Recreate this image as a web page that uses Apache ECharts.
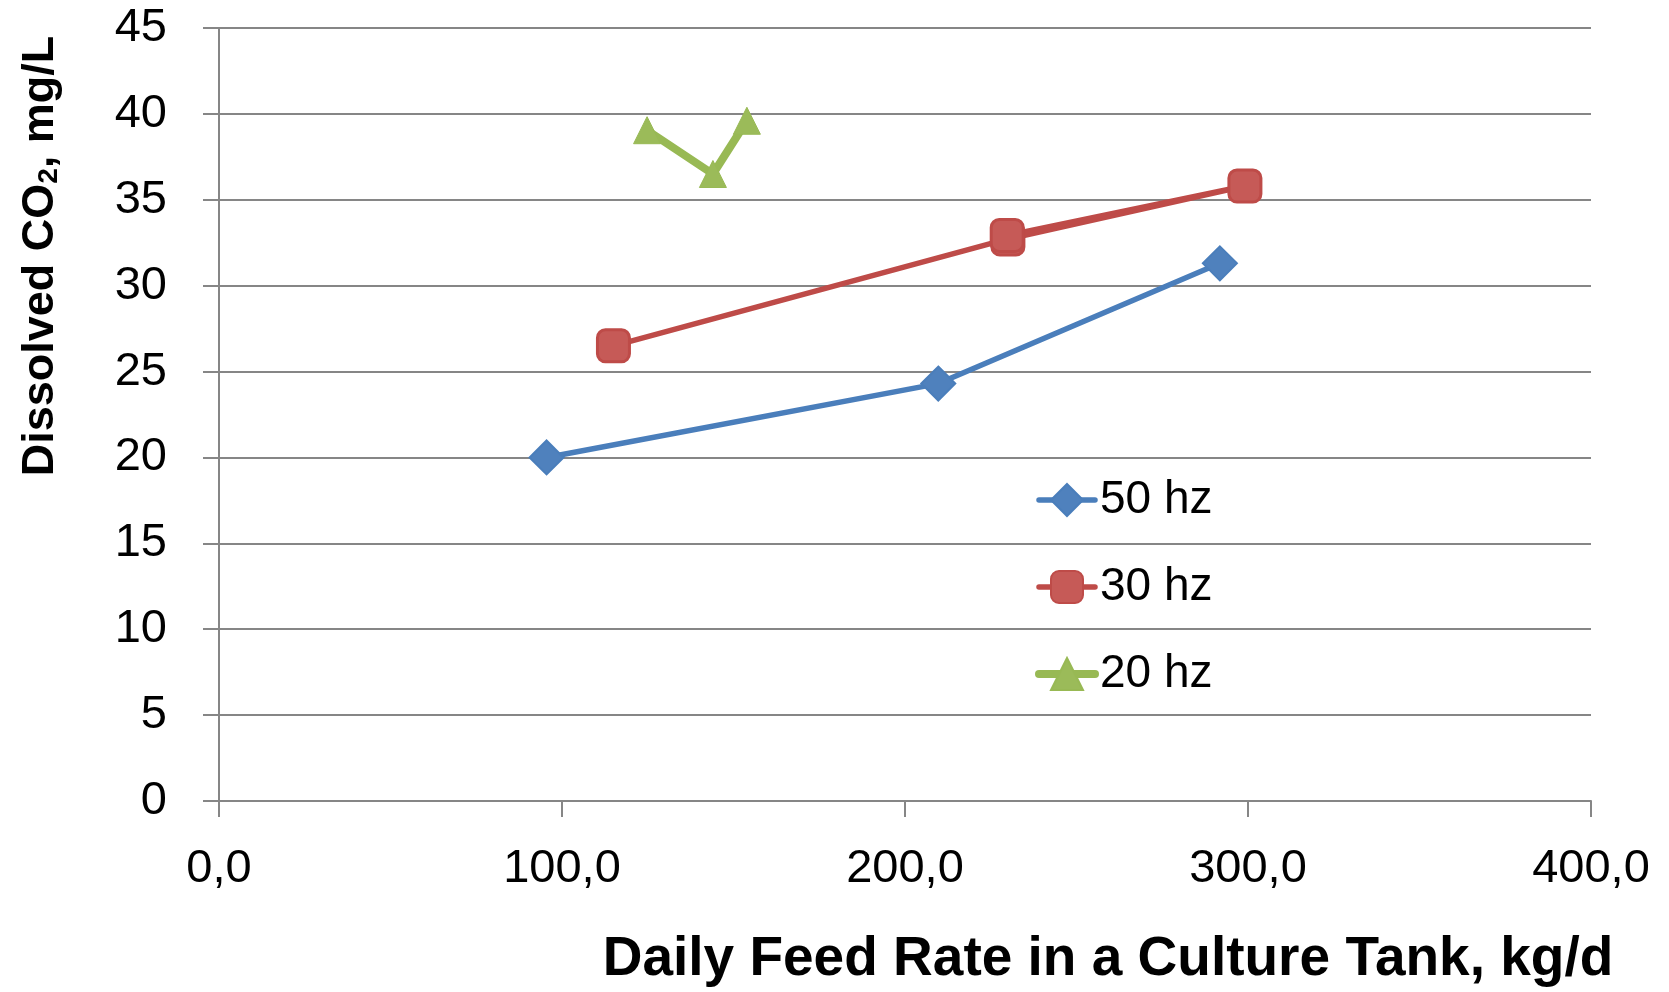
<!DOCTYPE html>
<html>
<head>
<meta charset="utf-8">
<script src="https://cdn.jsdelivr.net/npm/echarts@6/dist/echarts.min.js"></script>
<style>
html,body{margin:0;padding:0;background:#fff;}
#chart{width:1669px;height:992px;}
</style>
</head>
<body>
<div id="chart"></div>
<script>
// ---- data ----
const seriesNames = ['50 hz', '30 hz', '20 hz'];
const hz50X = [95.5, 209.7, 291.8];
const hz50Y = [20.0, 24.3, 31.3];
const hz30X = [115.0, 230.0, 299.1, 229.8];
const hz30Y = [26.5, 32.72, 35.8, 32.92];
const hz20X = [124.8, 144.0, 153.9];
const hz20Y = [39.05, 36.5, 39.6];
const xTicks = [0, 100, 200, 300, 400];
const yTicks = [0, 5, 10, 15, 20, 25, 30, 35, 40, 45];
const xTitle = 'Daily Feed Rate in a Culture Tank, kg/d';
const yTitleParts = ['Dissolved CO', '2', ', mg/L'];

const pair = (xs, ys) => xs.map((x, i) => [x, ys[i]]);
const FONT = "'Liberation Sans', Arial, sans-serif";
const GRAY = '#868686';
const COLORS = {
  line: ['#4a7ebb', '#be4b48', '#98b954'],
  fill: ['#4f81bd', '#c65a57', '#9bbb59']
};
const LINE_W = [5.5, 5.5, 8];

const chart = echarts.init(document.getElementById('chart'), null, {renderer: 'canvas'});
chart.setOption({
  animation: false,
  backgroundColor: '#ffffff',
  grid: {left: 219, right: 78, top: 28, bottom: 191, containLabel: false},
  xAxis: {
    type: 'value',
    min: xTicks[0], max: xTicks[xTicks.length - 1], interval: 100,
    axisLine: {show: true, lineStyle: {color: GRAY, width: 2}},
    axisTick: {show: true, inside: false, length: 16, lineStyle: {color: GRAY, width: 2}},
    splitLine: {show: false},
    axisLabel: {
      margin: 45, color: '#000', fontFamily: FONT, fontSize: 47,
      formatter: v => v.toFixed(1).replace('.', ',')
    }
  },
  yAxis: {
    type: 'value',
    min: yTicks[0], max: yTicks[yTicks.length - 1], interval: 5,
    axisLine: {show: true, lineStyle: {color: GRAY, width: 2}},
    axisTick: {show: true, inside: false, length: 16, lineStyle: {color: GRAY, width: 2}},
    splitLine: {show: true, lineStyle: {color: GRAY, width: 2}},
    axisLabel: {margin: 52, color: '#000', fontFamily: FONT, fontSize: 47}
  },
  legend: {
    orient: 'vertical',
    left: 1030, top: 472,
    itemWidth: 56, itemHeight: 40, itemGap: 41,
    textStyle: {color: '#000', fontFamily: FONT, fontSize: 46, lineHeight: 40},
    data: seriesNames.map((n, i) => ({
      name: n,
      lineStyle: {width: LINE_W[i], color: COLORS.line[i], cap: 'round'}
    }))
  },
  graphic: [
    {
      type: 'text',
      x: 1108, y: 960,
      style: {
        text: xTitle, fill: '#000',
        font: "bold 55px 'Liberation Sans', Arial, sans-serif",
        align: 'center', verticalAlign: 'middle'
      }
    },
    {
      type: 'text',
      x: 38, y: 256,
      rotation: Math.PI / 2,
      style: {
        text: '{a|' + yTitleParts[0] + '}{s|' + yTitleParts[1] + '}{a|' + yTitleParts[2] + '}',
        align: 'center', verticalAlign: 'middle',
        rich: {
          a: {fontFamily: FONT, fontWeight: 'bold', fontSize: 45, fill: '#000', lineHeight: 50, verticalAlign: 'bottom'},
          s: {fontFamily: FONT, fontWeight: 'bold', fontSize: 28, fill: '#000', lineHeight: 50, verticalAlign: 'bottom', padding: [14, 0, 0, 0]}
        }
      }
    }
  ],
  series: [
    {
      name: seriesNames[0], type: 'line',
      data: pair(hz50X, hz50Y),
      symbol: 'diamond', symbolSize: 34,
      lineStyle: {color: COLORS.line[0], width: LINE_W[0], cap: 'round'},
      itemStyle: {color: COLORS.fill[0], borderColor: COLORS.line[0], borderWidth: 2}
    },
    {
      name: seriesNames[1], type: 'line',
      data: pair(hz30X, hz30Y),
      symbol: 'roundRect', symbolSize: 32,
      lineStyle: {color: COLORS.line[1], width: LINE_W[1], cap: 'round'},
      itemStyle: {color: COLORS.fill[1], borderColor: COLORS.line[1], borderWidth: 3}
    },
    {
      name: seriesNames[2], type: 'line',
      data: pair(hz20X, hz20Y),
      symbol: 'triangle', symbolSize: [27, 27],
      lineStyle: {color: COLORS.line[2], width: LINE_W[2], cap: 'round'},
      itemStyle: {color: COLORS.fill[2], borderColor: COLORS.line[2], borderWidth: 1}
    }
  ]
});
</script>
</body>
</html>
